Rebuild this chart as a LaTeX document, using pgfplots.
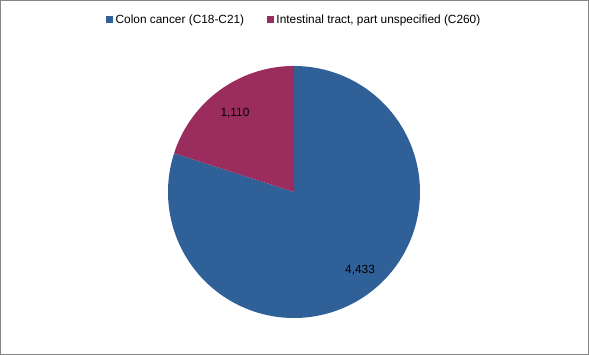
\documentclass[border=0pt]{standalone}
\usepackage{fontspec}
\setmainfont{Liberation Sans}
\usepackage{pgfplots}
\usepackage{pgfplotstable}
\pgfplotsset{compat=1.18}
\definecolor{cblue}{HTML}{2F6097}
\definecolor{cred}{HTML}{9A2C5E}
\definecolor{frame}{HTML}{868686}
\pgfplotstableread{
label value
Colon 4433
Intestinal 1110
}\piedata
\begin{document}%
\begin{tikzpicture}
\pgfplotstablegetelem{0}{value}\of\piedata \let\va\pgfplotsretval
\pgfplotstablegetelem{1}{value}\of\piedata \let\vb\pgfplotsretval
\pgfmathsetmacro\angb{360*(\vb/(\va+\vb))}
\pgfmathsetmacro\split{90+\angb}
\begin{axis}[
  width=441.75pt, height=266.25pt, scale only axis,
  xmin=0, xmax=589, ymin=0, ymax=355,
  hide axis, clip=false,
  font=\fontsize{8.9}{10}\selectfont,
  legend columns=2,
  legend style={draw=none, fill=none, at={(0.5,0.975)}, anchor=north,
    font=\fontsize{8.9}{10}\selectfont,
    /tikz/every even column/.append style={column sep=15pt}},
  legend image code/.code={\fill[#1] (0pt,-2.6pt) rectangle (5.2pt,2.6pt);},
]
\addplot[fill=cblue, draw=none, domain=\split:450, samples=200, variable=\t]
  ({294+126*cos(t)}, {163+126*sin(t)}) -- (axis cs:294,163) -- cycle;
\addlegendentry{Colon cancer (C18-C21)}
\addplot[fill=cred, draw=none, domain=90:\split, samples=80, variable=\t]
  ({294+126*cos(t)}, {163+126*sin(t)}) -- (axis cs:294,163) -- cycle;
\addlegendentry{Intestinal tract, part unspecified (C260)}
\node at (axis cs:235,242) {\pgfmathprintnumber[1000 sep={,}, assume math mode=true]{\vb}};
\node at (axis cs:360,85) {\pgfmathprintnumber[1000 sep={,}, assume math mode=true]{\va}};
\draw[frame, line width=1.1pt] (axis cs:0.75,0.75) rectangle (axis cs:588.25,354.25);
\end{axis}
\end{tikzpicture}%
\end{document}
